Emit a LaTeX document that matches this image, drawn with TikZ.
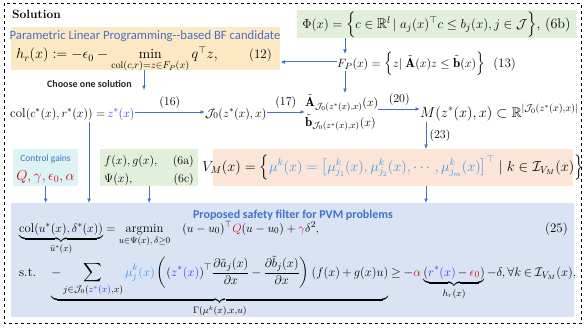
\documentclass[tikz,border=0pt]{standalone}
\usepackage{amsmath,amssymb}
\usepackage{fontspec}
\newfontfamily\carl{Carlito}
\usetikzlibrary{arrows.meta}
\definecolor{abl}{HTML}{4472C4}
\definecolor{plpf}{HTML}{FCE9C4}
\definecolor{grf}{HTML}{E2EFDA}
\definecolor{cyf}{HTML}{DDF2F4}
\definecolor{pchf}{HTML}{FBE5D6}
\definecolor{sff}{HTML}{DAE3F3}
\definecolor{zb}{HTML}{3535F0}
\definecolor{mub}{HTML}{3C96F0}
\definecolor{rd}{HTML}{D01010}
\newcommand{\zs}{\textcolor{zb}{z^*(x)}}
\tikzset{
  panel/.style={draw=none, inner sep=0pt, anchor=north west},
  mth/.style={inner sep=0pt, font=\fontsize{13}{16}\selectfont},
  lab/.style={inner sep=0pt, font=\fontsize{12}{14}\selectfont},
  ttl/.style={inner sep=0pt, text=abl, font=\carl\fontsize{12.7}{14}\selectfont},
  arr/.style={draw=abl, line width=1pt, -{Latex[length=4.5pt,width=4pt]}},
}
\begin{document}
\begin{tikzpicture}[x=1pt,y=-1pt]
\useasboundingbox (0,0) rectangle (586,329);
\draw[dashed, line width=0.7pt] (4.5,3.5) rectangle (581,323.5);
\node[inner sep=0pt, anchor=base west, font=\fontsize{12}{14}\selectfont\bfseries] (sol) at (12,19) {Solution};
% PLP box
\node[panel, fill=plpf, minimum width=269pt, minimum height=43pt] (plp) at (11,27) {};
\node[ttl, anchor=base] (plpt) at (145,40) {Parametric Linear Programming--based BF candidate};
\node[mth, anchor=base west, font=\fontsize{14}{17}\selectfont] (hr) at (16,59) {$h_r(x) \mathrel{:=} -\epsilon_0 - \min\limits_{\mathrm{col}(c,r)=z\in F_P(x)} q^\top z,$};
\node[lab, anchor=base east, font=\fontsize{13}{15}\selectfont] (e12) at (272,59) {(12)};
\node[inner sep=0pt, anchor=base west, font=\carl\bfseries\fontsize{10}{12}\selectfont, text=black!85] (choose) at (47,87) {Choose one solution};
% Phi box
\node[panel, fill=grf, minimum width=279pt, minimum height=28pt] (phibox) at (297,10) {};
\node[inner sep=0pt] (phi) at (436.5,25) {\resizebox{268pt}{!}{\fontsize{13}{16}\selectfont$\Phi(x)=\Big\{c\in\mathbb{R}^l\,|\;a_j(x)^\top c\le b_j(x),j\in\mathcal{J}\Big\}$, (6b)}};
% F_P
\node[mth, anchor=base west] (fp) at (337,67) {$F_P(x)=\Big\{z|\;\tilde{\mathbf{A}}(x)z\le\tilde{\mathbf{b}}(x)\Big\}$\ \ (13)};
\coordinate (fpx) at (345,0);
% row
\node[mth, anchor=base west] (col) at (10,117) {$\mathrm{col}(c^*(x),r^*(x))=$};
\node[mth, anchor=base west] (z) at (col.base east) {$\,\zs$};
\node[mth, anchor=base west, font=\fontsize{12.5}{15}\selectfont] (j0) at (205,117) {$\mathcal{J}_0(z^*(x),x)$};
\node[mth, anchor=west, align=left] (Ab) at (305,113) {$\tilde{\mathbf{A}}_{\mathcal{J}_0(z^*(x),x)}(x)$\\[2pt] $\tilde{\mathbf{b}}_{\mathcal{J}_0(z^*(x),x)}(x)$};
\node[mth, anchor=base west, font=\fontsize{14}{17}\selectfont] (M) at (420,117) {$M(z^*(x),x)\subset\mathbb{R}^{|\mathcal{J}_0(z^*(x),x)|}$};
\coordinate (mx) at (426,0);
\coordinate (colx) at (89,0);
% control gains
\node[panel, fill=cyf, minimum width=65pt, minimum height=37pt] (cg) at (13,149) {};
\node[ttl, anchor=base, font=\carl\fontsize{9.5}{11}\selectfont] (cgt) at (45.5,161) {Control gains};
\node[mth, anchor=base, text=rd, font=\fontsize{14}{17}\selectfont] (cgv) at (45.5,180) {$Q,\gamma,\epsilon_0,\alpha$};
% f g box
\node[panel, fill=grf, minimum width=98pt, minimum height=37pt] (fg) at (100,149) {};
\node[mth, anchor=base west] (fgt) at (104,164) {$f(x),g(x),$};
\node[lab, anchor=base east] (e6a) at (194,164) {(6a)};
\node[mth, anchor=base west] (psi) at (104,182) {$\Psi(x),$};
\node[lab, anchor=base east] (e6c) at (194,182) {(6c)};
% V_M box
\node[panel, fill=pchf, minimum width=360pt, minimum height=37pt] (vm) at (213,149) {};
\node[mth, font=\fontsize{14}{17}\selectfont] (vmt) at (393,167.5) {$V_M(x)=\Big\{\textcolor{mub}{\mu^k(x)=\big[\mu^k_{j_1}(x),\mu^k_{j_2}(x),\cdots,\mu^k_{j_m}(x)\big]^\top}\;|\;k\in\mathcal{I}_{V_M}(x)\Big\}$};
% safety filter box
\node[panel, fill=sff, minimum width=563pt, minimum height=114pt] (sf) at (11,203) {};
\node[ttl, anchor=base, font=\carl\bfseries\fontsize{12}{14}\selectfont] (sft) at (293,218) {Proposed safety filter for PVM problems};
\node[mth, anchor=base west, font=\fontsize{12.7}{16}\selectfont] (l1) at (19,232) {$\displaystyle\underbrace{\mathrm{col}(u^*(x),\delta^*(x))}_{\bar{u}^*(x)}=\operatorname*{argmin}_{u\in\Psi(x),\,\delta\ge0}\hspace{12pt}(u-u_0)^\top\textcolor{rd}{Q}(u-u_0)+\textcolor{rd}{\gamma}\delta^2,$};
\node[mth, anchor=base east] (e25) at (568,232) {(25)};
\node[inner sep=0pt, anchor=base west] (l2) at (19,276) {\resizebox{557pt}{!}{\fontsize{12.5}{15}\selectfont\medmuskip=3mu\thickmuskip=4mu$\displaystyle\text{s.t.}\quad\underbrace{-\sum_{j\in\mathcal{J}_0(\zs,x)}\textcolor{mub}{\mu^k_j(x)}\left((\zs)^\top\frac{\partial\tilde a_j(x)}{\partial x}-\frac{\partial\tilde b_j(x)}{\partial x}\right)(f(x)+g(x)u)}_{\Gamma(\mu^k(x),x,u)}\ge-\textcolor{rd}{\alpha}\underbrace{(\textcolor{zb}{r^*(x)}-\textcolor{rd}{\epsilon_0})}_{h_r(x)}-\delta,\forall k\in\mathcal{I}_{V_M}(x),$}};
% arrows
\draw[arr] (fp.west |- 0,62) -- (plp.east |- 0,62);
\draw[arr] (phibox.south -| fpx) -- (fpx |- 0,54);
\draw[arr] (fpx |- 0,71) -- (fpx |- 0,93);
\draw[arr] (plp.south -| 144,0) -- (144,90);
\draw[arr] (z.east |- 0,112) -- node[lab, above=3pt] {(16)} (j0.west |- 0,112);
\draw[arr] (j0.east |- 0,112) -- node[lab, above=3pt] {(17)} (Ab.west |- 0,112);
\draw[arr] (Ab.east |- 0,109) -- node[lab, above=3pt] {(20)} (M.west |- 0,109);
\draw[arr] (mx |- 0,122) -- node[lab, right=3pt] {(23)} (mx |- vm.north);
\draw[arr] (colx |- 0,122) -- (colx |- sf.north);
\draw[arr] (cg.south) -- (cg.south |- sf.north);
\draw[arr] (fg.south) -- (fg.south |- sf.north);
\draw[arr] (vm.south -| mx) -- (mx |- sf.north);
\end{tikzpicture}
\end{document}
